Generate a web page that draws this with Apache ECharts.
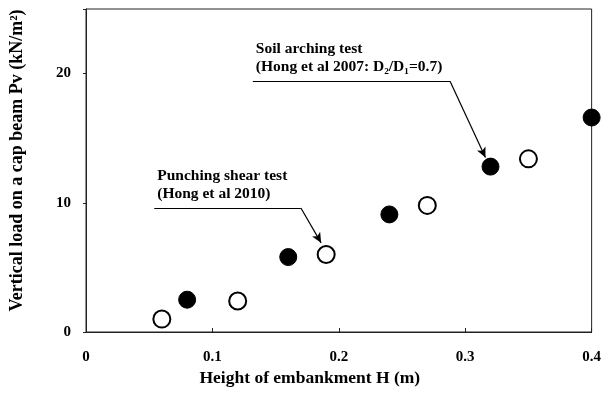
<!DOCTYPE html>
<html><head><meta charset="utf-8">
<script src="https://cdn.jsdelivr.net/npm/echarts@6/dist/echarts.min.js"></script>
<style>html,body{margin:0;padding:0;background:#fff}#c{width:604px;height:401px}</style>
</head><body><div id="c"></div>
<script>
var xTicks = [0, 0.1, 0.2, 0.3, 0.4];
var yTicks = [0, 10, 20];
var soilArching = [[0.08, 2.5], [0.16, 5.8], [0.24, 9.1], [0.32, 12.8], [0.40, 16.6]];
var punchingShear = [[0.06, 1.0], [0.12, 2.4], [0.19, 6.0], [0.27, 9.8], [0.35, 13.4]];
var soilNote = { text: ['Soil arching test', '(Hong et al 2007: D\u2082/D\u2081=0.7)'], line: [[0.132, 19.4], [0.288, 19.4]], arrowTo: [0.316, 13.5] };
var punchNote = { text: ['Punching shear test', '(Hong et al 2010)'], line: [[0.054, 9.6], [0.170, 9.6]], arrowTo: [0.186, 6.9] };

var FONT = '"Liberation Serif", "DejaVu Serif", serif';
var chart = echarts.init(document.getElementById('c'));
function noteLines(n) {
  return [
    [{ coord: n.line[0], symbol: 'none' }, { coord: n.line[1], symbol: 'none' }],
    [{ coord: n.line[1], symbol: 'none' }, { coord: n.arrowTo, symbol: 'arrow', symbolSize: [7, 10] }]
  ];
}
function noteLabel(n) {
  return {
    coord: n.line[0], value: 0,
    symbol: 'circle', symbolSize: 0,
    label: {
      show: true, position: 'right', offset: [-2, -23],
      formatter: n.text.join('\n'),
      fontFamily: FONT, fontWeight: 'bold', fontSize: 15.5, lineHeight: 18,
      color: '#000', align: 'left'
    }
  };
}
chart.setOption({
  animation: false,
  backgroundColor: '#fff',
  grid: { left: 86, right: 11, top: 9, bottom: 69, show: true, borderColor: '#222', borderWidth: 1, backgroundColor: 'transparent' },
  xAxis: {
    type: 'value', min: xTicks[0], max: xTicks[xTicks.length - 1], interval: 0.1,
    name: 'Height of embankment H (m)', nameLocation: 'middle', nameGap: 35,
    nameTextStyle: { fontFamily: FONT, fontWeight: 'bold', fontSize: 17.5, color: '#000', padding: [0, 58, 0, 0] },
    axisLine: { lineStyle: { color: '#222', width: 1 } },
    axisTick: { inside: true, length: 4, lineStyle: { color: '#222' } },
    splitLine: { show: false },
    axisLabel: { margin: 18, fontFamily: FONT, fontWeight: 'bold', fontSize: 15, color: '#000',
      formatter: function (v) { return xTicks.indexOf(Math.round(v * 10) / 10) >= 0 ? String(Math.round(v * 10) / 10) : ''; } }
  },
  yAxis: {
    type: 'value', min: 0, max: 25, interval: 10,
    name: 'Vertical load on a cap beam Pv (kN/m\u00b2)', nameLocation: 'middle', nameGap: 60,
    nameTextStyle: { fontFamily: FONT, fontWeight: 'bold', fontSize: 18, color: '#000', padding: [0, 0, 0, 20] },
    axisLine: { show: true, lineStyle: { color: '#222', width: 1 } },
    axisTick: { show: true, length: 3, lineStyle: { color: '#222' } },
    splitLine: { show: false },
    axisLabel: { margin: 15, fontFamily: FONT, fontWeight: 'bold', fontSize: 15, color: '#000',
      formatter: function (v) { return yTicks.indexOf(v) >= 0 ? String(v) : ''; } }
  },
  series: [
    {
      name: 'Soil arching test', type: 'scatter', data: soilArching, symbolSize: 17, clip: false,
      itemStyle: { color: '#000', borderColor: '#000', borderWidth: 1, opacity: 1 },
      markLine: { silent: true, animation: false, symbol: 'none', label: { show: false },
        lineStyle: { color: '#000', width: 1.2, type: 'solid' }, data: noteLines(soilNote) },
      markPoint: { silent: true, data: [noteLabel(soilNote)] }
    },
    {
      name: 'Punching shear test', type: 'scatter', data: punchingShear, symbolSize: 17, clip: false,
      itemStyle: { color: '#fff', borderColor: '#000', borderWidth: 2, opacity: 1 },
      markLine: { silent: true, animation: false, symbol: 'none', label: { show: false },
        lineStyle: { color: '#000', width: 1.2, type: 'solid' }, data: noteLines(punchNote) },
      markPoint: { silent: true, data: [noteLabel(punchNote)] }
    }
  ]
});
</script></body></html>
